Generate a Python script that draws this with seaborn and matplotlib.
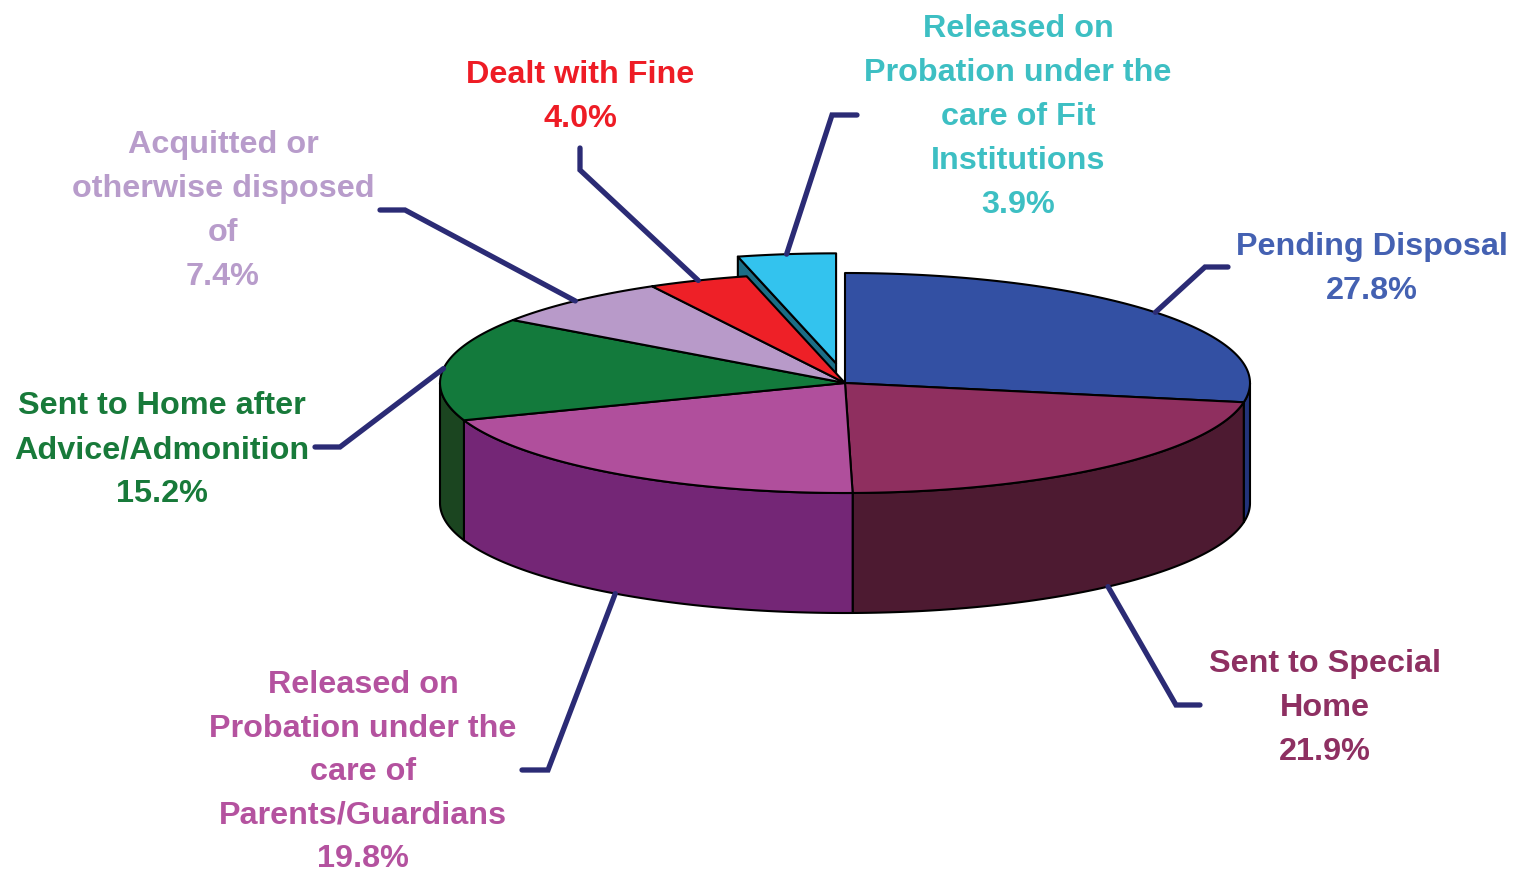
import numpy as np
import matplotlib
matplotlib.use("Agg")
import matplotlib.pyplot as plt
import seaborn as sns
from matplotlib.patches import Polygon

sns.set_theme(style="white")
plt.rcParams['font.family'] = ['Liberation Sans', 'DejaVu Sans']

# ---------------- data ----------------
categories = [
    "Pending Disposal",
    "Sent to Special Home",
    "Released on Probation under the care of Parents/Guardians",
    "Sent to Home after Advice/Admonition",
    "Acquitted or otherwise disposed of",
    "Dealt with Fine",
    "Released on Probation under the care of Fit Institutions",
]
values = [27.8, 21.9, 19.8, 15.2, 7.4, 4.0, 3.9]
label_lines = [
    ["Pending Disposal"],
    ["Sent to Special", "Home"],
    ["Released on", "Probation under the", "care of", "Parents/Guardians"],
    ["Sent to Home after", "Advice/Admonition"],
    ["Acquitted or", "otherwise disposed", "of"],
    ["Dealt with Fine"],
    ["Released on", "Probation under the", "care of Fit", "Institutions"],
]

# ---------------- styles / layout ----------------
top_colors = ["#3350A3", "#8F2F5F", "#B04F9C", "#137A3C", "#B89AC9", "#EE2027", "#33C3EE"]
side_colors = ["#22337A", "#4D1A31", "#742676", "#1B4520", "#7D6390", "#8E1418", "#1B6E86"]
text_colors = ["#4461B2", "#8E3062", "#B4529F", "#187A3A", "#B89CCB", "#EE1C25", "#3DBFC3"]
explode = [0, 0, 0, 0, 0, 0, 0.18]

W, H = 1514, 872
cx, cy, rx, ry, depth = 845, 383, 405, 110, 120
line_color = "#2B2B75"
fs = 23.3
lh = [44, 44, 43.5, 44, 44, 44, 44]  # line height in px per label block

# text block first-line centers (x, y)
text_pos = [(1372, 247), (1325, 664), (363, 685), (162, 406), (223, 145), (580, 75), (1018, 29)]
# leader elbows and ends
elbows = [(1205, 267), (1176, 705), (548, 770), (340, 447), (405, 210), (580, 170), (832, 115)]
ends = [(1228, 267), (1200, 705), (522, 770), (315, 447), (380, 210), (580, 148), (857, 115)]

fig = plt.figure(figsize=(W / 100, H / 100), dpi=100)
ax = fig.add_axes([0, 0, 1, 1])
ax.set_xlim(0, W)
ax.set_ylim(H, 0)
ax.axis("off")


def arc(t0, t1, ox=0.0, oy=0.0, dy=0.0, n=120):
    ts = np.radians(np.linspace(t0, t1, n))
    return np.column_stack([cx + ox + rx * np.cos(ts), cy + oy - ry * np.sin(ts) + dy])


total = float(sum(values))
cum = np.concatenate([[0], np.cumsum(values)])
starts = 90 - cum[:-1] / total * 360
ends_ang = 90 - cum[1:] / total * 360
mids = (starts + ends_ang) / 2

offsets = []
for i in range(len(values)):
    m = np.radians(mids[i])
    offsets.append((explode[i] * rx * np.cos(m), -explode[i] * ry * np.sin(m)))

edge_kw = dict(edgecolor="black", linewidth=1.5, joinstyle="round")

# exploded slices (at the back) first: radial face + top
for i in range(len(values)):
    if explode[i] == 0:
        continue
    ox, oy = offsets[i]
    s = np.radians(starts[i])
    p_center = (cx + ox, cy + oy)
    p_rim = (cx + ox + rx * np.cos(s), cy + oy - ry * np.sin(s))
    vis = -oy
    face = [p_center, p_rim, (p_rim[0], p_rim[1] + vis), (p_center[0], p_center[1] + vis)]
    ax.add_patch(Polygon(face, closed=True, facecolor=side_colors[i], **edge_kw))
    top = np.vstack([[p_center], arc(starts[i], ends_ang[i], ox, oy)])
    ax.add_patch(Polygon(top, closed=True, facecolor=top_colors[i], **edge_kw))

# side walls (visible front half)
for i in range(len(values)):
    if explode[i] != 0:
        continue
    lo, hi = ends_ang[i], starts[i]
    for vlo, vhi in [(-180, 0), (-540, -360), (180, 360)]:
        a, b = max(lo, vlo), min(hi, vhi)
        if b - a <= 1e-6:
            continue
        poly = np.vstack([arc(a, b), arc(b, a, dy=depth)])
        ax.add_patch(Polygon(poly, closed=True, facecolor=side_colors[i], **edge_kw))

# top faces
for i in range(len(values)):
    if explode[i] != 0:
        continue
    top = np.vstack([[(cx, cy)], arc(starts[i], ends_ang[i])])
    ax.add_patch(Polygon(top, closed=True, facecolor=top_colors[i], **edge_kw))

# leader lines + labels
for i in range(len(values)):
    ox, oy = offsets[i]
    m = np.radians(mids[i])
    ax_x = cx + ox + rx * np.cos(m)
    ax_y = cy + oy - ry * np.sin(m)
    if np.sin(m) < 0 and explode[i] == 0:
        ax_y += depth
    xs = [ax_x, elbows[i][0], ends[i][0]]
    ys = [ax_y, elbows[i][1], ends[i][1]]
    ax.plot(xs, ys, color=line_color, lw=3.8, solid_capstyle="round",
            solid_joinstyle="miter", zorder=5)
    lines = label_lines[i] + [f"{values[i]:.1f}%"]
    tx, ty = text_pos[i]
    for k, t in enumerate(lines):
        ax.text(tx, ty + k * lh[i], t, ha="center", va="center", fontsize=fs,
                fontweight="bold", color=text_colors[i], zorder=6)

fig.savefig("out.png", dpi=100)
